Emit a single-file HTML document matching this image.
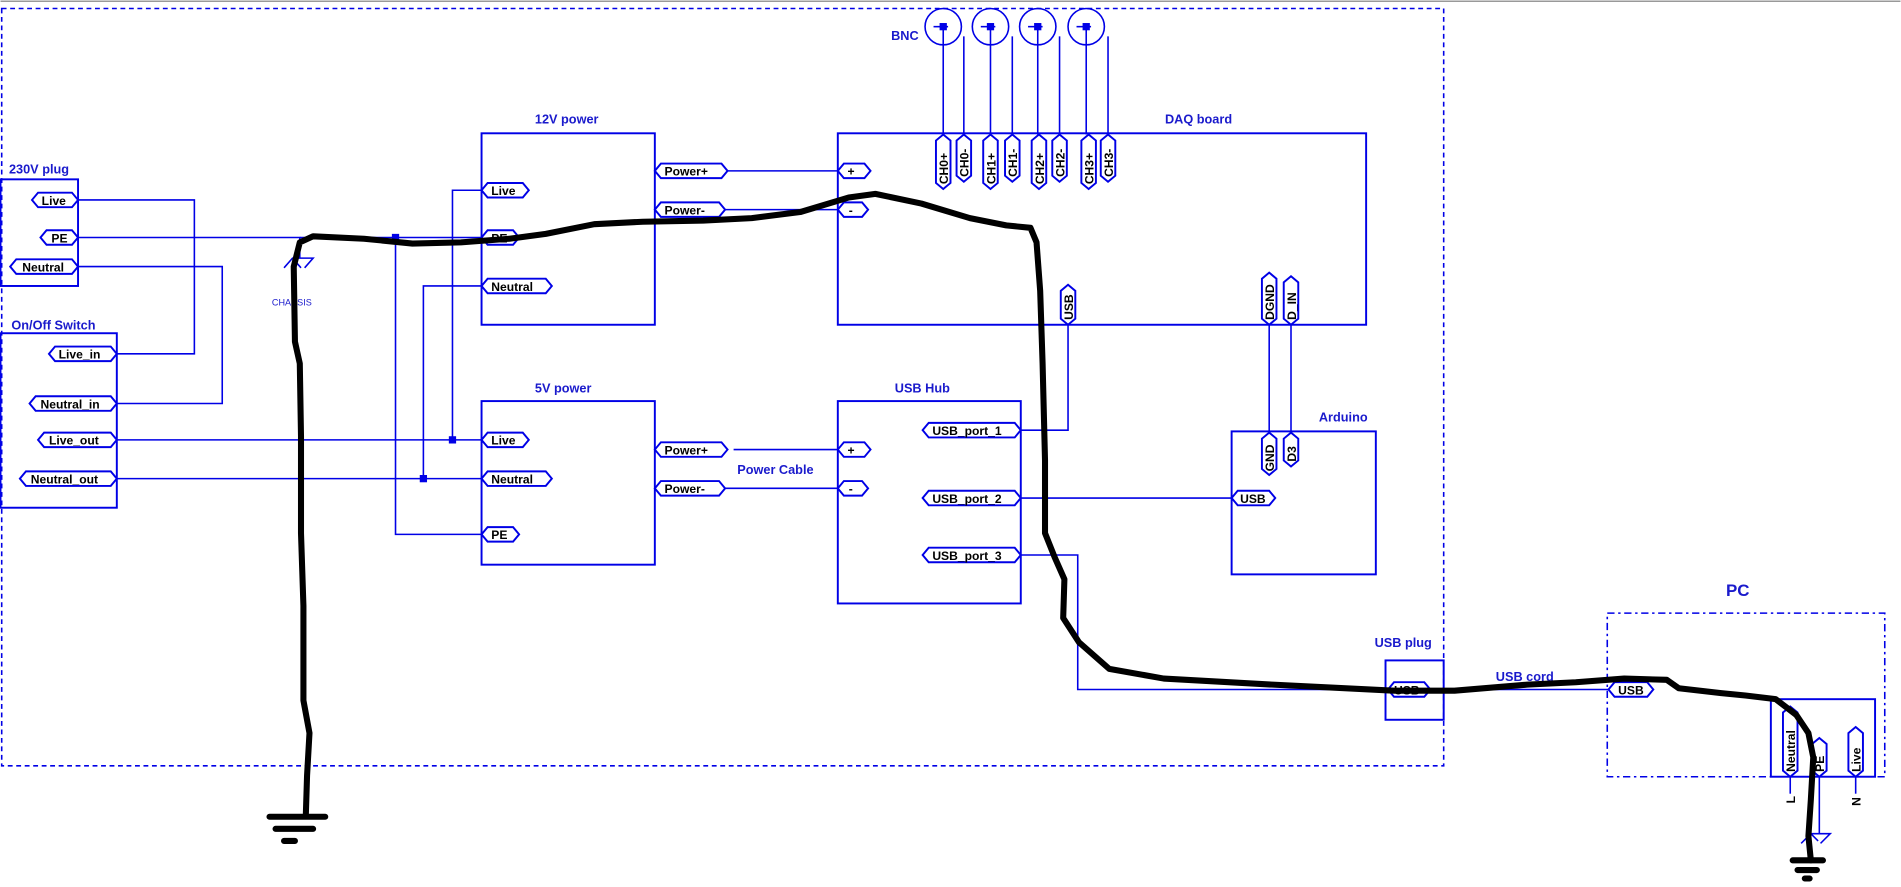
<!DOCTYPE html>
<html><head><meta charset="utf-8"><style>
html,body{margin:0;padding:0;background:#fff;width:1901px;height:887px;overflow:hidden}
svg{display:block}
.b{fill:none;stroke:#0000e6;stroke-width:1.6}
.w{fill:none;stroke:#0000e6;stroke-width:1.3}
.t{fill:#fff;stroke:#0000e6;stroke-width:1.6}
.lbl{font-family:"Liberation Sans",sans-serif;font-weight:bold;font-size:10.5px;fill:#1a1acc}
.tt{font-family:"Liberation Sans",sans-serif;font-weight:bold;font-size:10px;fill:#000}
.k{fill:none;stroke:#000;stroke-width:5;stroke-linecap:round;stroke-linejoin:round}
</style></head><body>
<svg width="1901" height="887" viewBox="0 0 1568 732" xmlns="http://www.w3.org/2000/svg">
<line x1="0" y1="1" x2="1568" y2="1" stroke="#999" stroke-width="1.2"/>
<rect x="1" y="7" width="1190" height="625" fill="none" stroke="#0000e6" stroke-width="1.3" stroke-dasharray="4,3"/>
<rect x="1326" y="506" width="229" height="135" fill="none" stroke="#0000e6" stroke-width="1.3" stroke-dasharray="6,3,2,3"/>

<!-- labels -->
<text class="lbl" x="7" y="143">230V plug</text>
<text class="lbl" x="9" y="272">On/Off Switch</text>
<text class="lbl" x="441" y="102">12V power</text>
<text class="lbl" x="441" y="324">5V power</text>
<text class="lbl" x="961" y="102">DAQ board</text>
<text class="lbl" x="738" y="324">USB Hub</text>
<text class="lbl" x="1088" y="348">Arduino</text>
<text class="lbl" x="608" y="391">Power Cable</text>
<text class="lbl" x="735" y="33">BNC</text>
<text class="lbl" x="1134" y="534">USB plug</text>
<text class="lbl" x="1234" y="562">USB cord</text>
<text class="lbl" x="1424" y="492" style="font-size:14px">PC</text>
<text class="lbl" x="224" y="252" style="font-size:7.5px;font-weight:normal">CHASSIS</text>

<!-- boxes -->
<rect class="b" x="0" y="148" width="64" height="88"/>
<rect class="b" x="0" y="275" width="96" height="144"/>
<rect class="b" x="397" y="110" width="143" height="158"/>
<rect class="b" x="397" y="331" width="143" height="135"/>
<rect class="b" x="691" y="110" width="436" height="158"/>
<rect class="b" x="691" y="331" width="151" height="167"/>
<rect class="b" x="1016" y="356" width="119" height="118"/>
<rect class="b" x="1143" y="545" width="48" height="49"/>
<rect class="b" x="1461" y="577" width="86" height="64"/>

<!-- wires -->
<polyline class="w" points="64,165 160,165 160,292 96,292"/>
<polyline class="w" points="64,220 183,220 183,333 96,333"/>
<polyline class="w" points="64,196 247,196 247,213"/>
<path class="w" d="M234,221 L241,213 L258,213 L251,221 M241,213 L248,221"/>
<line class="w" x1="247" y1="196" x2="397" y2="196"/>
<polyline class="w" points="96,363 397,363"/>
<polyline class="w" points="96,395 397,395"/>
<polyline class="w" points="397,157 373,157 373,363"/>
<polyline class="w" points="397,236 349,236 349,395"/>
<polyline class="w" points="326,196 326,441 397,441"/>
<rect x="323" y="193" width="6" height="6" fill="#0000e6"/>
<rect x="370" y="360" width="6" height="6" fill="#0000e6"/>
<rect x="346" y="392" width="6" height="6" fill="#0000e6"/>
<line class="w" x1="600" y1="141" x2="691" y2="141"/>
<line class="w" x1="598" y1="173" x2="691" y2="173"/>
<line class="w" x1="605" y1="371" x2="691" y2="371"/>
<line class="w" x1="598" y1="403" x2="691" y2="403"/>
<polyline class="w" points="881,268 881,355 842,355"/>
<line class="w" x1="842" y1="411" x2="1017" y2="411"/>
<polyline class="w" points="842,458 889,458 889,569 1145,569"/>
<line class="w" x1="1047" y1="268" x2="1047" y2="357"/>
<line class="w" x1="1065" y1="268" x2="1065" y2="357"/>
<line class="w" x1="1180" y1="569" x2="1327" y2="569"/>
<line class="w" x1="1477" y1="641" x2="1477" y2="655"/>
<line class="w" x1="1531" y1="641" x2="1531" y2="655"/>
<line class="w" x1="1501" y1="641" x2="1501" y2="688"/>
<path class="w" d="M1486,696 L1494,688 L1510,688 L1502,696 M1494,688 L1500,694"/>
<text class="tt" transform="translate(1481,663) rotate(-90)">L</text>
<text class="tt" transform="translate(1535,665) rotate(-90)">N</text>

<!-- BNC -->
<g class="w">
<circle cx="778" cy="22" r="15"/><circle cx="817" cy="22" r="15"/><circle cx="856" cy="22" r="15"/><circle cx="896" cy="22" r="15"/>
<line x1="778" y1="22" x2="778" y2="111"/><line x1="795" y1="30" x2="795" y2="111"/>
<line x1="817" y1="22" x2="817" y2="111"/><line x1="835" y1="30" x2="835" y2="111"/>
<line x1="856" y1="22" x2="856" y2="111"/><line x1="874" y1="30" x2="874" y2="111"/>
<line x1="896" y1="22" x2="896" y2="111"/><line x1="914" y1="30" x2="914" y2="111"/>
<line x1="770" y1="22" x2="782" y2="22"/><line x1="809" y1="22" x2="821" y2="22"/><line x1="848" y1="22" x2="860" y2="22"/><line x1="888" y1="22" x2="900" y2="22"/>
</g>
<g fill="#0000e6"><rect x="775" y="19" width="6" height="6"/><rect x="814" y="19" width="6" height="6"/><rect x="853" y="19" width="6" height="6"/><rect x="893" y="19" width="6" height="6"/></g>

<!-- horizontal tags -->
<g class="t">
<polygon points="26,165 31,159 59,159 64,165 59,171 31,171"/>
<polygon points="33,196 38,190 59,190 64,196 59,202 38,202"/>
<polygon points="8,220 13,214 59,214 64,220 59,226 13,226"/>
<polygon points="40,292 45,286 91,286 96,292 91,298 45,298"/>
<polygon points="24,333 29,327 91,327 96,333 91,339 29,339"/>
<polygon points="31,363 36,357 91,357 96,363 91,369 36,369"/>
<polygon points="16,395 21,389 91,389 96,395 91,401 21,401"/>
<polygon points="397,157 402,151 431,151 436,157 431,163 402,163"/>
<polygon points="397,196 402,190 423,190 428,196 423,202 402,202"/>
<polygon points="397,236 402,230 450,230 455,236 450,242 402,242"/>
<polygon points="397,363 402,357 431,357 436,363 431,369 402,369"/>
<polygon points="397,395 402,389 450,389 455,395 450,401 402,401"/>
<polygon points="397,441 402,435 423,435 428,441 423,447 402,447"/>
<polygon points="540,141 545,135 595,135 600,141 595,147 545,147"/>
<polygon points="540,173 545,167 593,167 598,173 593,179 545,179"/>
<polygon points="540,371 545,365 595,365 600,371 595,377 545,377"/>
<polygon points="540,403 545,397 593,397 598,403 593,409 545,409"/>
<polygon points="691,141 696,135 713,135 718,141 713,147 696,147"/>
<polygon points="691,173 696,167 711,167 716,173 711,179 696,179"/>
<polygon points="691,371 696,365 713,365 718,371 713,377 696,377"/>
<polygon points="691,403 696,397 711,397 716,403 711,409 696,409"/>
<polygon points="761,355 766,349 837,349 842,355 837,361 766,361"/>
<polygon points="761,411 766,405 837,405 842,411 837,417 766,417"/>
<polygon points="761,458 766,452 837,452 842,458 837,464 766,464"/>
<polygon points="1016,411 1021,405 1047,405 1052,411 1047,417 1021,417"/>
<polygon points="1145,569 1150,563 1175,563 1180,569 1175,575 1150,575"/>
<polygon points="1327,569 1332,563 1359,563 1364,569 1359,575 1332,575"/>
</g>
<g class="tt">
<text x="34" y="169">Live</text><text x="42" y="200">PE</text><text x="18" y="224">Neutral</text>
<text x="48" y="296">Live_in</text><text x="33" y="337">Neutral_in</text><text x="40" y="367">Live_out</text><text x="25" y="399">Neutral_out</text>
<text x="405" y="161">Live</text><text x="405" y="200">PE</text><text x="405" y="240">Neutral</text>
<text x="405" y="367">Live</text><text x="405" y="399">Neutral</text><text x="405" y="445">PE</text>
<text x="548" y="145">Power+</text><text x="548" y="177">Power-</text><text x="548" y="375">Power+</text><text x="548" y="407">Power-</text>
<text x="699" y="145">+</text><text x="700" y="177">-</text><text x="699" y="375">+</text><text x="700" y="407">-</text>
<text x="769" y="359">USB_port_1</text><text x="769" y="415">USB_port_2</text><text x="769" y="462">USB_port_3</text>
<text x="1023" y="415">USB</text><text x="1150" y="573">USB</text><text x="1335" y="573">USB</text>
</g>

<!-- vertical tags -->
<g class="t">
<polygon points="778,111 784,116 784,151 778,156 772,151 772,116"/>
<polygon points="795,111 801,116 801,145 795,150 789,145 789,116"/>
<polygon points="817,111 823,116 823,151 817,156 811,151 811,116"/>
<polygon points="835,111 841,116 841,145 835,150 829,145 829,116"/>
<polygon points="857,111 863,116 863,151 857,156 851,151 851,116"/>
<polygon points="874,111 880,116 880,145 874,150 868,145 868,116"/>
<polygon points="898,111 904,116 904,151 898,156 892,151 892,116"/>
<polygon points="914,111 920,116 920,145 914,150 908,145 908,116"/>
<polygon points="881,235 887,240 887,263 881,268 875,263 875,240"/>
<polygon points="1047,225 1053,230 1053,263 1047,268 1041,263 1041,230"/>
<polygon points="1065,228 1071,233 1071,263 1065,268 1059,263 1059,233"/>
<polygon points="1047,357 1053,362 1053,387 1047,392 1041,387 1041,362"/>
<polygon points="1065,357 1071,362 1071,380 1065,385 1059,380 1059,362"/>
<polygon points="1477,583 1483,588 1483,636 1477,641 1471,636 1471,588"/>
<polygon points="1501,609 1507,614 1507,636 1501,641 1495,636 1495,614"/>
<polygon points="1531,600 1537,605 1537,636 1531,641 1525,636 1525,605"/>
</g>
<g class="tt">
<text transform="translate(782,152) rotate(-90)">CH0+</text>
<text transform="translate(799,146) rotate(-90)">CH0-</text>
<text transform="translate(821,152) rotate(-90)">CH1+</text>
<text transform="translate(839,146) rotate(-90)">CH1-</text>
<text transform="translate(861,152) rotate(-90)">CH2+</text>
<text transform="translate(878,146) rotate(-90)">CH2-</text>
<text transform="translate(902,152) rotate(-90)">CH3+</text>
<text transform="translate(918,146) rotate(-90)">CH3-</text>
<text transform="translate(885,264) rotate(-90)">USB</text>
<text transform="translate(1051,264) rotate(-90)">DGND</text>
<text transform="translate(1069,264) rotate(-90)">D_IN</text>
<text transform="translate(1051,389) rotate(-90)">GND</text>
<text transform="translate(1069,381) rotate(-90)">D3</text>
<text transform="translate(1481,637) rotate(-90)">Neutral</text>
<text transform="translate(1505,637) rotate(-90)">PE</text>
<text transform="translate(1535,637) rotate(-90)">Live</text>
</g>

<!-- hand-drawn black line -->
<path class="k" d="M252,672 L253,640 L255,605 L250,578 L250,500 L248,440 L248,360 L247,300 L243,282 L242,220 L247,200 L258,195 L300,197 L340,201 L380,200 L420,197 L450,193 L490,185 L530,183 L580,182 L620,180 L660,175 L700,163 L722,160 L760,168 L800,180 L830,186 L850,188 L855,200 L858,240 L860,300 L862,380 L862,440 L870,460 L878,478 L877,510 L890,530 L915,552 L960,560 L1050,565 L1150,570 L1200,570 L1260,565 L1300,563 L1340,560 L1375,561 L1385,568 L1420,572 L1440,574 L1465,577 L1482,590 L1492,605 L1496,625 L1494,660 L1492,690 L1494,710"/>
<path class="k" d="M222,674 L268,674 M227,684 L258,684 M234,694 L243,694"/>
<path class="k" d="M1479,710 L1504,710 M1483,718 L1499,718 M1489,725 L1493,725"/>
</svg>
</body></html>
